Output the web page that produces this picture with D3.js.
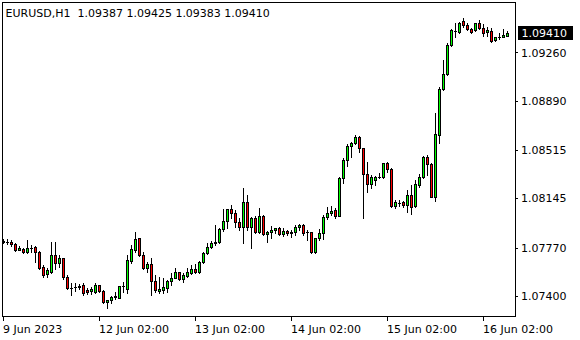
<!DOCTYPE html>
<html>
<head>
<meta charset="utf-8">
<script src="https://cdn.jsdelivr.net/npm/d3@7"></script>
<style>
  body { margin: 0; background: #fff; }
  svg { display: block; }
</style>
</head>
<body>
<svg id="chart" width="580" height="340"></svg>
<script>
const symbol = 'EURUSD,H1';

const opens = [
  1.07820, 1.07815, 1.07810, 1.07795, 1.07753, 1.07759, 1.07734, 1.07764, 1.07776, 1.07736,
  1.07619, 1.07566, 1.07586, 1.07713, 1.07650, 1.07688, 1.07547, 1.07459, 1.07470, 1.07471,
  1.07484, 1.07446, 1.07438, 1.07433, 1.07484, 1.07438, 1.07352, 1.07369, 1.07394, 1.07387,
  1.07476, 1.07453, 1.07667, 1.07751, 1.07841, 1.07713, 1.07612, 1.07642, 1.07514, 1.07440,
  1.07443, 1.07462, 1.07514, 1.07540, 1.07581, 1.07532, 1.07555, 1.07578, 1.07606, 1.07586,
  1.07660, 1.07726, 1.07772, 1.07802, 1.07812, 1.07909, 1.07975, 1.08062, 1.08036, 1.07967,
  1.07925, 1.08120, 1.07925, 1.07999, 1.07891, 1.08011, 1.07874, 1.07889, 1.07902, 1.07917,
  1.07875, 1.07899, 1.07883, 1.07886, 1.07927, 1.07942, 1.07888, 1.07886, 1.07738, 1.07840,
  1.07882, 1.08004, 1.08032, 1.08053, 1.08013, 1.08299, 1.08437, 1.08546, 1.08566, 1.08614,
  1.08528, 1.08329, 1.08253, 1.08286, 1.08307, 1.08307, 1.08413, 1.08370, 1.08090, 1.08113,
  1.08116, 1.08095, 1.08171, 1.08090, 1.08248, 1.08311, 1.08464, 1.08408, 1.08158, 1.08632,
  1.08979, 1.09093, 1.09317, 1.09427, 1.09419, 1.09501, 1.09470, 1.09437, 1.09430, 1.09483,
  1.09445, 1.09414, 1.09427, 1.09355, 1.09381, 1.09381, 1.09387
];
const highs = [
  1.07835, 1.07833, 1.07828, 1.07802, 1.07784, 1.07769, 1.07828, 1.07790, 1.07784, 1.07744,
  1.07637, 1.07612, 1.07810, 1.07815, 1.07713, 1.07692, 1.07560, 1.07500, 1.07500, 1.07489,
  1.07501, 1.07459, 1.07470, 1.07497, 1.07486, 1.07446, 1.07368, 1.07400, 1.07433, 1.07478,
  1.07509, 1.07713, 1.07789, 1.07891, 1.07845, 1.07738, 1.07657, 1.07692, 1.07560, 1.07547,
  1.07535, 1.07522, 1.07573, 1.07612, 1.07586, 1.07573, 1.07612, 1.07637, 1.07644, 1.07665,
  1.07738, 1.07802, 1.07820, 1.07942, 1.07917, 1.08062, 1.08067, 1.08095, 1.08057, 1.07993,
  1.08223, 1.08171, 1.08001, 1.08011, 1.08070, 1.08019, 1.07896, 1.07935, 1.07922, 1.07929,
  1.07917, 1.07904, 1.07904, 1.07942, 1.07948, 1.07948, 1.07904, 1.07891, 1.07842, 1.07909,
  1.08019, 1.08082, 1.08087, 1.08070, 1.08311, 1.08452, 1.08559, 1.08574, 1.08630, 1.08622,
  1.08533, 1.08426, 1.08324, 1.08319, 1.08337, 1.08418, 1.08426, 1.08375, 1.08133, 1.08133,
  1.08126, 1.08210, 1.08248, 1.08286, 1.08332, 1.08472, 1.08477, 1.08414, 1.08800, 1.08999,
  1.09203, 1.09330, 1.09437, 1.09488, 1.09495, 1.09521, 1.09483, 1.09445, 1.09488, 1.09508,
  1.09478, 1.09457, 1.09445, 1.09381, 1.09411, 1.09437, 1.09425
];
const lows = [
  1.07805, 1.07797, 1.07784, 1.07744, 1.07749, 1.07728, 1.07728, 1.07738, 1.07659, 1.07606,
  1.07547, 1.07547, 1.07579, 1.07604, 1.07624, 1.07528, 1.07451, 1.07410, 1.07439, 1.07451,
  1.07407, 1.07415, 1.07415, 1.07420, 1.07433, 1.07344, 1.07310, 1.07344, 1.07377, 1.07382,
  1.07433, 1.07425, 1.07650, 1.07738, 1.07708, 1.07606, 1.07586, 1.07408, 1.07433, 1.07420,
  1.07420, 1.07433, 1.07484, 1.07535, 1.07522, 1.07509, 1.07547, 1.07568, 1.07573, 1.07573,
  1.07650, 1.07721, 1.07764, 1.07790, 1.07802, 1.07899, 1.07917, 1.07999, 1.07929, 1.07904,
  1.07807, 1.07904, 1.07764, 1.07883, 1.07879, 1.07866, 1.07815, 1.07841, 1.07879, 1.07866,
  1.07861, 1.07866, 1.07853, 1.07866, 1.07904, 1.07866, 1.07828, 1.07726, 1.07731, 1.07828,
  1.07833, 1.07986, 1.08019, 1.07998, 1.08008, 1.08261, 1.08395, 1.08464, 1.08559, 1.08502,
  1.07993, 1.08197, 1.08223, 1.08248, 1.08299, 1.08304, 1.08349, 1.08082, 1.08074, 1.08090,
  1.08082, 1.08039, 1.08024, 1.08082, 1.08235, 1.08299, 1.08324, 1.08155, 1.08128, 1.08571,
  1.08974, 1.09086, 1.09310, 1.09381, 1.09411, 1.09457, 1.09432, 1.09407, 1.09425, 1.09437,
  1.09386, 1.09386, 1.09343, 1.09350, 1.09361, 1.09376, 1.09383
];
const closes = [
  1.07816, 1.07813, 1.07795, 1.07751, 1.07769, 1.07734, 1.07764, 1.07765, 1.07734, 1.07612,
  1.07560, 1.07599, 1.07713, 1.07650, 1.07688, 1.07547, 1.07459, 1.07461, 1.07471, 1.07474,
  1.07420, 1.07428, 1.07450, 1.07484, 1.07438, 1.07352, 1.07367, 1.07394, 1.07398, 1.07476,
  1.07477, 1.07675, 1.07759, 1.07835, 1.07713, 1.07612, 1.07642, 1.07514, 1.07446, 1.07453,
  1.07469, 1.07514, 1.07540, 1.07583, 1.07527, 1.07560, 1.07583, 1.07606, 1.07586, 1.07657,
  1.07726, 1.07776, 1.07807, 1.07812, 1.07909, 1.07975, 1.08062, 1.08036, 1.07967, 1.07925,
  1.08120, 1.07925, 1.07999, 1.07891, 1.08011, 1.07874, 1.07891, 1.07904, 1.07917, 1.07874,
  1.07896, 1.07879, 1.07887, 1.07929, 1.07942, 1.07883, 1.07889, 1.07738, 1.07841, 1.07883,
  1.08006, 1.08036, 1.08052, 1.08013, 1.08304, 1.08439, 1.08548, 1.08566, 1.08615, 1.08528,
  1.08330, 1.08253, 1.08311, 1.08311, 1.08307, 1.08414, 1.08370, 1.08090, 1.08116, 1.08113,
  1.08095, 1.08171, 1.08082, 1.08253, 1.08311, 1.08464, 1.08408, 1.08158, 1.08637, 1.08981,
  1.09096, 1.09317, 1.09432, 1.09427, 1.09488, 1.09470, 1.09437, 1.09414, 1.09483, 1.09445,
  1.09411, 1.09432, 1.09350, 1.09376, 1.09381, 1.09394, 1.09410
];

const tickBars = [0, 24, 48, 72, 96, 120];
const tickLabels = ['9 Jun 2023', '12 Jun 02:00', '13 Jun 02:00', '14 Jun 02:00', '15 Jun 02:00', '16 Jun 02:00'];
const priceTicks = [1.07400, 1.07770, 1.08145, 1.08515, 1.08890, 1.09260];

const font = '"DejaVu Sans", Verdana, sans-serif';
const bull = '#00ff00';
const bear = '#ff0000';

const svg = d3.select('#chart');
const n = opens.length;
const last = n - 1;

const x = d3.scaleLinear().domain([0, last]).range([3, 507]);
const y = d3.scaleLinear().domain([1.07243, 1.09642]).range([316.5, 2.5]);

const bars = d3.range(n).map(i => ({ i, o: opens[i], h: highs[i], l: lows[i], c: closes[i] }));
const row = v => Math.round(y(v));

// candles
const plot = svg.append('g').attr('shape-rendering', 'crispEdges');
const candle = plot.selectAll('g').data(bars).join('g');

candle.append('rect')
    .attr('x', d => x(d.i))
    .attr('width', 1)
    .attr('y', d => row(d.h))
    .attr('height', d => row(d.l) - row(d.h) + 1)
    .attr('fill', '#000');

candle.append('rect')
    .attr('x', d => x(d.i) - 1)
    .attr('width', 3)
    .attr('y', d => row(Math.max(d.o, d.c)))
    .attr('height', d => row(Math.min(d.o, d.c)) - row(Math.max(d.o, d.c)) + 1)
    .attr('fill', '#000');

candle.filter(d => row(Math.min(d.o, d.c)) - row(Math.max(d.o, d.c)) >= 2)
    .append('rect')
    .attr('x', d => x(d.i))
    .attr('width', 1)
    .attr('y', d => row(Math.max(d.o, d.c)) + 1)
    .attr('height', d => row(Math.min(d.o, d.c)) - row(Math.max(d.o, d.c)) - 1)
    .attr('fill', d => d.c >= d.o ? bull : bear);

// frame
svg.append('rect')
    .attr('x', 2.5).attr('y', 2.5)
    .attr('width', 513).attr('height', 314)
    .attr('fill', 'none')
    .attr('stroke', '#000')
    .attr('shape-rendering', 'crispEdges');

// price axis
const yAxis = svg.append('g')
    .attr('transform', 'translate(515,0)')
    .call(d3.axisRight(y).tickValues(priceTicks).tickSize(3).tickSizeOuter(0).tickPadding(3)
        .tickFormat(d3.format('.5f')));
yAxis.select('.domain').remove();
yAxis.attr('font-family', font).attr('font-size', 11);
yAxis.selectAll('line').attr('shape-rendering', 'crispEdges');

// time axis
const xAxis = svg.append('g')
    .attr('transform', 'translate(0,316)')
    .call(d3.axisBottom(x).tickValues(tickBars).tickSize(5).tickSizeOuter(0).tickPadding(4)
        .tickFormat((d, i) => tickLabels[i]));
xAxis.select('.domain').remove();
xAxis.attr('font-family', font).attr('font-size', 11);
xAxis.selectAll('line').attr('shape-rendering', 'crispEdges');
xAxis.selectAll('text').attr('text-anchor', 'start').attr('x', -0.5);

// current price tag
const lastY = y(closes[last]);
svg.append('rect')
    .attr('x', 518).attr('y', Math.round(lastY) - 7)
    .attr('width', 55).attr('height', 14)
    .attr('fill', '#000');
svg.append('text')
    .attr('x', 521.5).attr('y', lastY + 4)
    .attr('font-family', font).attr('font-size', 11)
    .attr('fill', '#fff')
    .text(d3.format('.5f')(closes[last]));

// header
svg.append('text')
    .attr('x', 5.5).attr('y', 17)
    .attr('font-family', font).attr('font-size', 11)
    .attr('fill', '#000')
    .attr('xml:space', 'preserve')
    .text(`${symbol}  ${[opens[last], highs[last], lows[last], closes[last]].map(d3.format('.5f')).join(' ')}`);
</script>
</body>
</html>
